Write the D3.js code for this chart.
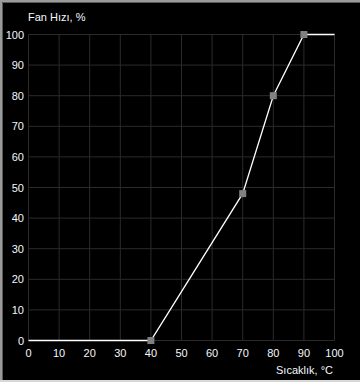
<!DOCTYPE html>
<html>
<head>
<meta charset="utf-8">
<script src="https://cdn.jsdelivr.net/npm/d3@7"></script>
<style>
  body { margin: 0; background: #000; }
  svg { display: block; }
  text { font-family: "Liberation Sans", Arial, sans-serif; font-size: 11px; fill: #f4f8ff; }
</style>
</head>
<body>
<svg id="chart" width="360" height="382"></svg>
<script>
// fan curve: temperature (°C) -> fan speed (%)
var temps = [0, 40, 70, 80, 90, 100];
var speeds = [0, 0, 48, 80, 100, 100];
var handles = [1, 2, 3, 4]; // indices that have a drag handle
var xTicks = [0, 10, 20, 30, 40, 50, 60, 70, 80, 90, 100];
var yTicks = [0, 10, 20, 30, 40, 50, 60, 70, 80, 90, 100];

var svg = d3.select("#chart");

// window frame
svg.append("rect").attr("x", 0).attr("y", 0).attr("width", 360).attr("height", 382).attr("fill", "#000");
svg.append("path").attr("d", "M1,381V1H360").attr("stroke", "#9a9a9a").attr("stroke-width", 2).attr("fill", "none");
svg.append("path").attr("d", "M2.5,380V2.5H360").attr("stroke", "#5a5a5a").attr("stroke-width", 1).attr("fill", "none");
svg.append("path").attr("d", "M0,381H360").attr("stroke", "#d8d8d8").attr("stroke-width", 2).attr("fill", "none");

var x = d3.scaleLinear().domain([0, 100]).range([28.5, 334.5]);
var y = d3.scaleLinear().domain([0, 100]).range([340.5, 34.5]);

var grid = svg.append("g");
grid.selectAll(".gx").data(xTicks).enter().append("line")
    .attr("x1", d => x(d)).attr("x2", d => x(d))
    .attr("y1", y(0)).attr("y2", y(100))
    .attr("stroke", "#2b2b2b");
grid.selectAll(".gy").data(yTicks).enter().append("line")
    .attr("x1", x(0)).attr("x2", x(100))
    .attr("y1", d => y(d)).attr("y2", d => y(d))
    .attr("stroke", "#2b2b2b");

svg.selectAll(".xl").data(xTicks).enter().append("text")
    .attr("x", d => x(d)).attr("y", 357)
    .attr("text-anchor", "middle")
    .text(d => d);
svg.selectAll(".yl").data(yTicks).enter().append("text")
    .attr("x", 24).attr("y", d => y(d) + 4)
    .attr("text-anchor", "end")
    .text(d => d);

svg.append("text").attr("x", 28).attr("y", 21).text("Fan Hızı, %");
svg.append("text").attr("x", 333).attr("y", 374).attr("text-anchor", "end").text("Sıcaklık, °C");

var line = d3.line().x((d, i) => x(temps[i])).y((d, i) => y(speeds[i]));
svg.append("path").datum(speeds)
    .attr("d", line)
    .attr("fill", "none")
    .attr("stroke", "#fff")
    .attr("stroke-width", 1.3);

svg.selectAll(".h").data(handles).enter().append("rect")
    .attr("x", i => x(temps[i]) - 3.5)
    .attr("y", i => y(speeds[i]) - 3.5)
    .attr("width", 7).attr("height", 7)
    .attr("fill", "#808080");
</script>
</body>
</html>
